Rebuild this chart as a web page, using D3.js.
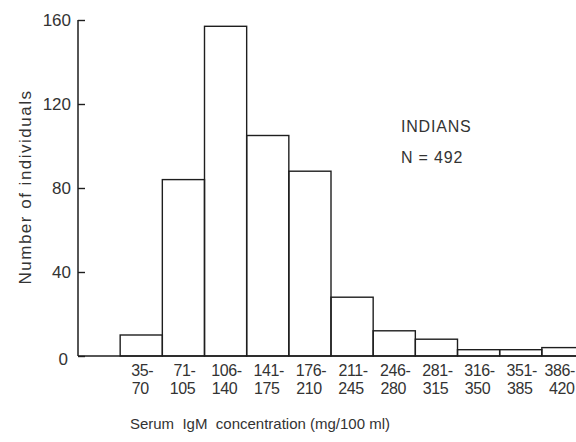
<!DOCTYPE html>
<html><head><meta charset="utf-8">
<script src="https://cdn.jsdelivr.net/npm/d3@7"></script>
<style>
html,body{margin:0;padding:0;background:#fff;}
svg{display:block;}
text{font-family:"Liberation Sans",Arial,sans-serif;fill:#333;}
</style></head>
<body>
<svg id="chart" width="576" height="442"></svg>
<script>
// Data
const binLower = [35, 71, 106, 141, 176, 211, 246, 281, 316, 351, 386];
const binUpper = [70, 105, 140, 175, 210, 245, 280, 315, 350, 385, 420];
const counts   = [10, 84, 157, 105, 88, 28, 12, 8, 3, 3, 4];
const yTicks   = [0, 40, 80, 120, 160];
const yTitle = "Number of individuals";
const xTitle = "Serum  IgM  concentration (mg/100 ml)";
const annotation = ["INDIANS", "N = 492"];

const W = 576;
const svg = d3.select("#chart");
const ink = "#1e1e1e";

const x = d3.scaleLinear().domain([0, 420]).range([78, 584]);
const y = d3.scaleLinear().domain([0, 160]).range([356, 20]);
const mid = i => (x(35 + 35 * i) + x(70 + 35 * i)) / 2;

// bars (bin i spans 35+35i .. 70+35i)
svg.append("g").selectAll("rect")
  .data(counts)
  .join("rect")
  .attr("x", (d, i) => x(35 + 35 * i))
  .attr("width", (d, i) => x(70 + 35 * i) - x(35 + 35 * i))
  .attr("y", d => y(d))
  .attr("height", d => y(0) - y(d))
  .attr("fill", "none")
  .attr("stroke", ink)
  .attr("stroke-width", 1.4);

// y axis
const yAxis = d3.axisRight(y).tickValues(yTicks).tickSize(7).tickFormat("");
const gy = svg.append("g").attr("transform", `translate(${x(0)},0)`).call(yAxis);
gy.select(".domain").remove();
gy.selectAll(".tick line").attr("stroke", ink).attr("stroke-width", 1.4);
svg.append("line")
  .attr("x1", x(0)).attr("x2", x(0))
  .attr("y1", y(160)).attr("y2", y(0))
  .attr("stroke", ink).attr("stroke-width", 1.5);

svg.append("g").selectAll("text")
  .data(yTicks)
  .join("text")
  .attr("x", d => d === 0 ? 68 : 71)
  .attr("y", d => y(d) + (d === 0 ? 3 : 0))
  .attr("dy", "0.36em")
  .attr("text-anchor", "end")
  .style("font-size", "17px")
  .text(d => d);

// x baseline
svg.append("line")
  .attr("x1", x(0)).attr("x2", x(420))
  .attr("y1", y(0)).attr("y2", y(0))
  .attr("stroke", ink).attr("stroke-width", 1.5);

// x category labels (two rows), kept inside the picture
function placeRow(sel) {
  sel.each(function () {
    const bb = this.getBBox();
    if (bb.x + bb.width > W - 1) {
      d3.select(this).attr("x", +d3.select(this).attr("x") - (bb.x + bb.width - (W - 1)));
    }
  });
}
const row1 = svg.append("g").selectAll("text")
  .data(binLower)
  .join("text")
  .attr("x", (d, i) => mid(i) + 1)
  .attr("y", 376)
  .attr("text-anchor", "middle")
  .style("font-size", "16px")
  .style("letter-spacing", "-0.4px")
  .text(d => d + "-");
const row2 = svg.append("g").selectAll("text")
  .data(binUpper)
  .join("text")
  .attr("x", (d, i) => mid(i) - 1)
  .attr("y", 394)
  .attr("text-anchor", "middle")
  .style("font-size", "16px")
  .style("letter-spacing", "-0.4px")
  .text(d => d);
placeRow(row1);
placeRow(row2);

// axis titles
svg.append("text")
  .attr("transform", "translate(31,187) rotate(-90)")
  .attr("text-anchor", "middle")
  .style("font-size", "17px")
  .style("letter-spacing", "1.5px")
  .text(yTitle);

svg.append("text")
  .attr("x", 260).attr("y", 429)
  .attr("text-anchor", "middle")
  .style("font-size", "15px")
  .style("white-space", "pre")
  .attr("xml:space", "preserve")
  .text(xTitle);

// annotation
svg.append("g").selectAll("text")
  .data(annotation)
  .join("text")
  .attr("x", 401)
  .attr("y", (d, i) => 132 + i * 31)
  .style("font-size", "16px")
  .style("letter-spacing", "0.8px")
  .text(d => d);
</script>
</body></html>
